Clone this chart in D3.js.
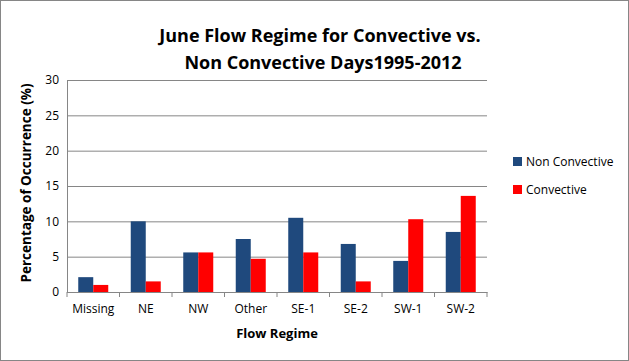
<!DOCTYPE html>
<html>
<head>
<meta charset="utf-8">
<script src="https://cdn.jsdelivr.net/npm/d3@7"></script>
<style>
  body { margin: 0; background: #fff; }
  svg { display: block; font-family: "Open Sans", "Liberation Sans", sans-serif; }
</style>
</head>
<body>
<div id="container"></div>
<script>
const categories = ['Missing', 'NE', 'NW', 'Other', 'SE-1', 'SE-2', 'SW-1', 'SW-2'];
const nonConvective = [2.1, 10.0, 5.6, 7.5, 10.5, 6.8, 4.4, 8.5];
const convective = [1.0, 1.5, 5.6, 4.7, 5.6, 1.5, 10.3, 13.6];
const seriesNames = ['Non Convective', 'Convective'];
const seriesColors = ['#1F497D', '#FF0000'];
const yTicks = [0, 5, 10, 15, 20, 25, 30];

const width = 629;
const height = 361;
const margin = { top: 80, right: 142, bottom: 69, left: 67 };

const svg = d3.select('#container').append('svg')
    .attr('width', width)
    .attr('height', height);

// outer frame
svg.append('rect')
    .attr('x', 0.5).attr('y', 0.5)
    .attr('width', width - 1).attr('height', height - 1)
    .attr('fill', '#fff')
    .attr('stroke', '#868686');

const x = d3.scaleBand()
    .domain(categories)
    .range([margin.left, width - margin.right]);

const x1 = d3.scaleBand()
    .domain(seriesNames)
    .range([0, x.bandwidth()])
    .paddingInner(0)
    .paddingOuter(0.75);

const y = d3.scaleLinear()
    .domain([0, 30])
    .range([height - margin.bottom, margin.top]);

// gridlines
svg.append('g')
    .attr('transform', `translate(${margin.left},0)`)
    .call(d3.axisLeft(y).tickValues(yTicks).tickSize(-(width - margin.left - margin.right)).tickFormat(''))
    .call(g => g.select('.domain').remove())
    .call(g => g.selectAll('line').attr('stroke', '#868686'));

// y axis labels
svg.append('g')
    .attr('transform', `translate(${margin.left},0)`)
    .call(d3.axisLeft(y).tickValues(yTicks).tickSize(0).tickPadding(8))
    .call(g => g.select('.domain').attr('stroke', '#868686'))
    .call(g => g.selectAll('text').attr('font-size', 12).attr('fill', '#000')
        .attr('font-family', '"Open Sans", "Liberation Sans", sans-serif'));

// bars
const series = [nonConvective, convective];
series.forEach((vals, s) => {
    svg.append('g')
        .selectAll('rect')
        .data(categories)
        .enter().append('rect')
        .attr('x', d => x(d) + x1(seriesNames[s]))
        .attr('y', (d, i) => y(vals[i]))
        .attr('width', x1.bandwidth())
        .attr('height', (d, i) => y(0) - y(vals[i]))
        .attr('fill', seriesColors[s]);
});

// x axis
const xAxis = svg.append('g')
    .attr('transform', `translate(0,${y(0)})`)
    .call(d3.axisBottom(x).tickSize(0).tickPadding(12))
    .call(g => g.select('.domain').attr('stroke', '#868686'))
    .call(g => g.selectAll('text').attr('font-size', 12).attr('fill', '#000')
        .attr('font-family', '"Open Sans", "Liberation Sans", sans-serif'));

// category separator ticks
const bounds = categories.map(c => x(c)).concat([x.range()[1]]);
xAxis.selectAll('.sep')
    .data(bounds)
    .enter().append('line')
    .attr('x1', d => d).attr('x2', d => d)
    .attr('y1', 0).attr('y2', 5)
    .attr('stroke', '#868686');

// title
const title = svg.append('text')
    .attr('text-anchor', 'middle')
    .attr('font-size', 18)
    .attr('font-weight', 'bold')
    .attr('fill', '#000');
title.append('tspan').attr('x', 320).attr('y', 42).text('June Flow Regime for Convective vs.');
title.append('tspan').attr('x', 323).attr('y', 69).text('Non Convective Days1995-2012');

// axis titles
svg.append('text')
    .attr('x', (margin.left + width - margin.right) / 2)
    .attr('y', 338)
    .attr('text-anchor', 'middle')
    .attr('font-size', 13)
    .attr('font-weight', 'bold')
    .text('Flow Regime');

svg.append('text')
    .attr('transform', `translate(31,183) rotate(-90)`)
    .attr('text-anchor', 'middle')
    .attr('font-size', 13.5)
    .attr('font-weight', 'bold')
    .text('Percentage of Occurrence (%)');

// legend
const legend = svg.append('g').attr('transform', 'translate(513,157)');
seriesNames.forEach((name, i) => {
    const row = legend.append('g').attr('transform', `translate(0,${i * 28})`);
    row.append('rect')
        .attr('width', 9).attr('height', 9)
        .attr('fill', seriesColors[i]);
    row.append('text')
        .attr('x', 13).attr('y', 9)
        .attr('font-size', 12)
        .text(name);
});
</script>
</body>
</html>
